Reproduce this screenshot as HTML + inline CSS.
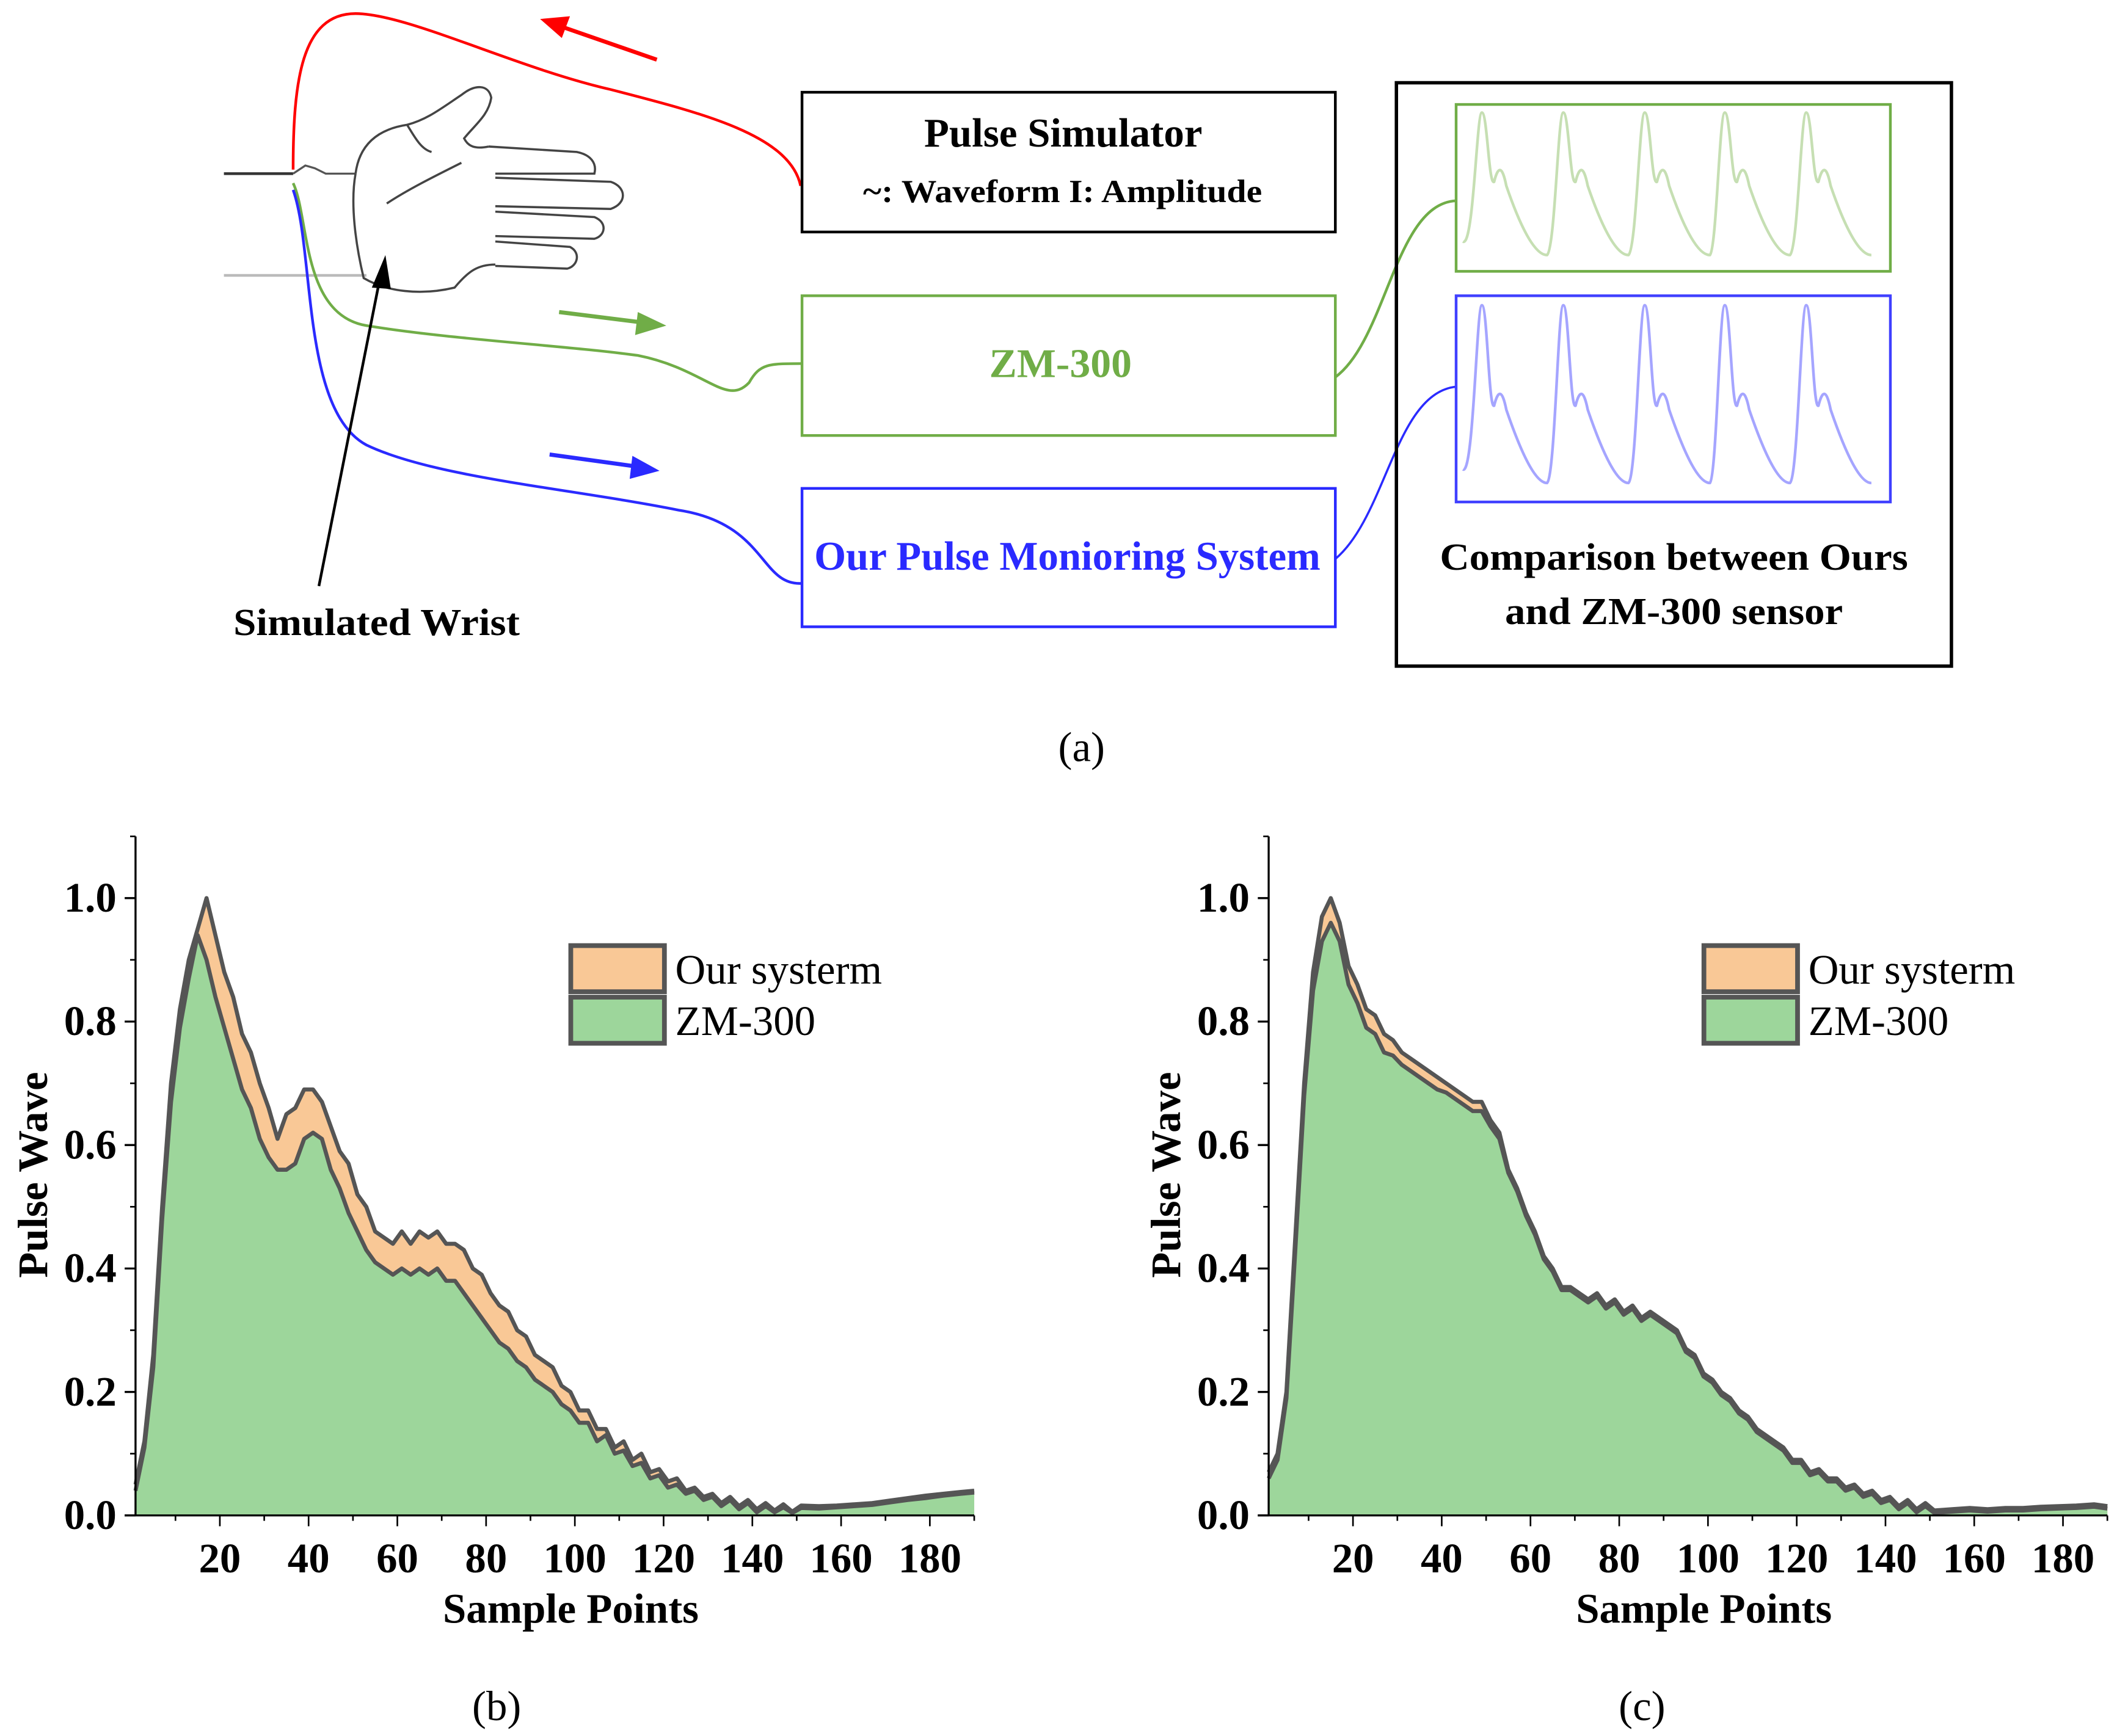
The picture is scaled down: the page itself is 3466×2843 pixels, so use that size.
<!DOCTYPE html>
<html><head><meta charset="utf-8"><style>
html,body{margin:0;padding:0;background:#fff;}
svg{display:block;}
text{font-family:"Liberation Serif",serif;}
</style></head><body>
<svg id="root" width="3466" height="2843" viewBox="0 0 1560 1279.6" xmlns="http://www.w3.org/2000/svg">
<g id="diagram">
  <line x1="165" y1="128" x2="216" y2="128" stroke="#333" stroke-width="2"/>
  <path d="M216,128 L225,122 L232,124 L240,128 L262,128" fill="none" stroke="#555" stroke-width="1.5"/>
  <line x1="165" y1="203" x2="270" y2="203" stroke="#bbb" stroke-width="2"/>
  <g fill="none" stroke="#444" stroke-width="1.6">
    <path d="M262,128 C258,150 262,180 268,205 C285,215 310,218 335,212 C345,200 352,195 365,195"/>
    <path d="M262,128 C265,105 280,95 300,92 C315,88 325,80 340,70 C350,62 360,62 362,72 C360,85 350,92 342,102 C345,108 350,110 360,108"/>
    <path d="M360,108 L425,112 C435,114 440,120 438,128 L365,128"/>
    <path d="M365,131 L450,134 C462,138 462,150 450,154 L365,152"/>
    <path d="M365,156 L438,160 C448,164 446,174 438,176 L365,174"/>
    <path d="M365,178 L420,182 C428,186 426,196 418,198 L365,196"/>
    <path d="M300,92 C305,100 310,110 318,112 M285,150 C300,140 320,130 340,120"/>
  </g>
  <path d="M216,125 C216,60 222,10 262,10 C300,10 380,50 450,66 C520,84 582,100 590,137" fill="none" stroke="#f00" stroke-width="2"/>
  <g><line x1="484" y1="44" x2="412" y2="19" stroke="#f00" stroke-width="3"/><polygon points="398,14 420,12 414,28" fill="#f00"/></g>
  <path d="M216,135 C228,160 222,232 270,240 C330,250 420,255 470,262 C520,272 535,300 552,282 C560,268 566,268 591,268" fill="none" stroke="#70ad47" stroke-width="2"/>
  <g><line x1="412" y1="230" x2="476" y2="238" stroke="#70ad47" stroke-width="3"/><polygon points="491,240 470,230 468,247" fill="#70ad47"/></g>
  <path d="M216,140 C232,185 222,302 270,328 C320,352 420,360 500,376 C565,386 560,432 591,430" fill="none" stroke="#2a2aff" stroke-width="2"/>
  <g><line x1="405" y1="335" x2="470" y2="344" stroke="#2a2aff" stroke-width="3"/><polygon points="486,347 466,336 464,353" fill="#2a2aff"/></g>
  <g><line x1="235" y1="432" x2="280" y2="205" stroke="#000" stroke-width="2"/><polygon points="284,188 274,212 288,213" fill="#000"/></g>
  <text x="172" y="468" font-size="28" font-weight="bold" textLength="211" lengthAdjust="spacingAndGlyphs">Simulated Wrist</text>

  <g>
    <rect x="591" y="68" width="393" height="103" fill="#fff" stroke="#000" stroke-width="2"/>
    <text x="681" y="108" font-size="30" font-weight="bold" textLength="205" lengthAdjust="spacingAndGlyphs">Pulse Simulator</text>
    <text x="636" y="149" font-size="24" font-weight="bold" textLength="294" lengthAdjust="spacingAndGlyphs">~: Waveform  I: Amplitude</text>
  </g>
  <g>
    <rect x="591" y="218" width="393" height="103" fill="#fff" stroke="#70ad47" stroke-width="2"/>
    <text x="729" y="278" font-size="30" font-weight="bold" fill="#70ad47" textLength="105" lengthAdjust="spacingAndGlyphs">ZM-300</text>
  </g>
  <g>
    <rect x="591" y="360" width="393" height="102" fill="#fff" stroke="#2a2aff" stroke-width="2"/>
    <text x="600" y="420" font-size="30" font-weight="bold" fill="#2a2aff" textLength="373" lengthAdjust="spacingAndGlyphs">Our Pulse Monioring System</text>
  </g>
  <path d="M984,278 C1022,250 1028,150 1073,148" fill="none" stroke="#70ad47" stroke-width="2"/>
  <path d="M984,412 C1022,380 1028,290 1073,285" fill="none" stroke="#2a2aff" stroke-width="1.6"/>
  <g>
    <rect x="1029" y="61" width="409" height="430" fill="none" stroke="#000" stroke-width="2.5"/>
    <rect x="1073" y="77" width="320" height="123" fill="#fff" stroke="#70ad47" stroke-width="2"/>
    <rect x="1073" y="218" width="320" height="152" fill="#fff" stroke="#4040ff" stroke-width="2"/>
    <path id="gwave" fill="none" stroke="#c6dfb3" stroke-width="2"/>
    <path id="bwave" fill="none" stroke="#a5a5ff" stroke-width="2"/>
    <text x="1061" y="420" font-size="28" font-weight="bold" textLength="345" lengthAdjust="spacingAndGlyphs">Comparison between Ours</text>
    <text x="1109" y="460" font-size="28" font-weight="bold" textLength="249" lengthAdjust="spacingAndGlyphs">and ZM-300 sensor</text>
  </g>
  <text x="797" y="561" font-size="31" text-anchor="middle">(a)</text>
</g>
<g id="chartB"></g>
<g id="chartC"></g>
<text x="366" y="1268" font-size="31" text-anchor="middle">(b)</text>
<text x="1210" y="1268" font-size="31" text-anchor="middle">(c)</text>
</svg>
<script>
const samplePoints = [1,3,5,7,9,11,13,15,17,19,21,23,25,27,29,31,33,35,37,39,41,43,45,47,49,51,53,55,57,59,61,63,65,67,69,71,73,75,77,79,81,83,85,87,89,91,93,95,97,99,101,103,105,107,109,111,113,115,117,119,121,123,125,127,129,131,133,135,137,139,141,143,145,147,149,151,155,159,163,167,171,175,179,183,187,190];
const ourB = [0.05,0.12,0.26,0.5,0.7,0.82,0.9,0.95,1.0,0.94,0.88,0.84,0.78,0.75,0.7,0.66,0.61,0.65,0.66,0.69,0.69,0.67,0.63,0.59,0.57,0.52,0.5,0.46,0.45,0.44,0.46,0.44,0.46,0.45,0.46,0.44,0.44,0.43,0.4,0.39,0.36,0.34,0.33,0.3,0.29,0.26,0.25,0.24,0.21,0.2,0.17,0.17,0.14,0.14,0.11,0.12,0.09,0.1,0.07,0.075,0.055,0.06,0.04,0.045,0.03,0.035,0.02,0.03,0.015,0.025,0.01,0.02,0.008,0.018,0.006,0.016,0.015,0.016,0.018,0.02,0.024,0.028,0.032,0.035,0.038,0.04];
const zmB = [0.04,0.11,0.24,0.48,0.67,0.79,0.87,0.94,0.9,0.84,0.79,0.74,0.69,0.66,0.61,0.58,0.56,0.56,0.57,0.61,0.62,0.61,0.56,0.53,0.49,0.46,0.43,0.41,0.4,0.39,0.4,0.39,0.4,0.39,0.4,0.38,0.38,0.36,0.34,0.32,0.3,0.28,0.27,0.25,0.24,0.22,0.21,0.2,0.18,0.17,0.15,0.15,0.12,0.13,0.1,0.105,0.08,0.085,0.06,0.065,0.045,0.05,0.035,0.04,0.025,0.03,0.015,0.025,0.01,0.02,0.005,0.015,0.005,0.013,0.004,0.012,0.011,0.013,0.015,0.017,0.021,0.025,0.028,0.032,0.035,0.037];
const ourC = [0.07,0.1,0.2,0.45,0.7,0.88,0.97,1.0,0.96,0.89,0.86,0.82,0.81,0.78,0.77,0.75,0.74,0.73,0.72,0.71,0.7,0.69,0.68,0.67,0.67,0.64,0.62,0.56,0.53,0.49,0.46,0.42,0.4,0.37,0.37,0.36,0.35,0.36,0.34,0.35,0.33,0.34,0.32,0.33,0.32,0.31,0.3,0.27,0.26,0.23,0.22,0.2,0.19,0.17,0.16,0.14,0.13,0.12,0.11,0.09,0.09,0.07,0.075,0.06,0.06,0.045,0.05,0.035,0.04,0.025,0.03,0.015,0.025,0.01,0.02,0.008,0.01,0.012,0.01,0.012,0.012,0.014,0.015,0.016,0.018,0.015];
const zmC = [0.06,0.09,0.19,0.43,0.68,0.85,0.93,0.96,0.93,0.86,0.83,0.79,0.78,0.75,0.745,0.73,0.72,0.71,0.70,0.69,0.685,0.675,0.665,0.655,0.655,0.63,0.61,0.555,0.525,0.485,0.455,0.415,0.395,0.365,0.365,0.355,0.345,0.355,0.335,0.345,0.325,0.335,0.315,0.325,0.315,0.305,0.295,0.265,0.255,0.225,0.215,0.195,0.185,0.165,0.155,0.135,0.125,0.115,0.105,0.085,0.085,0.065,0.07,0.055,0.055,0.04,0.045,0.03,0.035,0.02,0.025,0.01,0.02,0.005,0.015,0.004,0.006,0.008,0.006,0.008,0.008,0.01,0.011,0.012,0.014,0.011];
const yTicks = [0.0,0.2,0.4,0.6,0.8,1.0];
const yTickLabels = ["0.0","0.2","0.4","0.6","0.8","1.0"];
const xTicks = [20,40,60,80,100,120,140,160,180];
const legendLabels = ["Our systerm","ZM-300"];

const NS = "http://www.w3.org/2000/svg";
function mk(tag, attrs, parent){const e=document.createElementNS(NS,tag);for(const k in attrs)e.setAttribute(k,attrs[k]);parent.appendChild(e);return e;}

function drawChart(g, ox, our, zm){
  const xS = v => ox + v*3.27;
  const yS = v => 1117 - v*455;
  const xMin = 1, xMax = 190;
  const areaPath = arr => {
    const n = Math.min(samplePoints.length, arr.length);
    let d = "M"+xS(samplePoints[0])+","+yS(0);
    for(let i=0;i<n;i++) d += " L"+xS(samplePoints[i]).toFixed(2)+","+yS(arr[i]).toFixed(2);
    d += " L"+xS(samplePoints[n-1])+","+yS(0)+" Z";
    return d;
  };
  const linePath = arr => {
    const n = Math.min(samplePoints.length, arr.length);
    let d = "";
    for(let i=0;i<n;i++) d += (i?" L":"M")+xS(samplePoints[i]).toFixed(2)+","+yS(arr[i]).toFixed(2);
    return d;
  };
  const a1 = mk("path",{d:areaPath(our),fill:"#f9c896",stroke:"none"},g);
  
  
  const a2 = mk("path",{d:areaPath(zm),fill:"#9dd69b",stroke:"none"},g);
  
  
  const l1 = mk("path",{d:linePath(our),fill:"none",stroke:"#555","stroke-width":3,"stroke-linejoin":"round"},g);
  
  
  const l2 = mk("path",{d:linePath(zm),fill:"none",stroke:"#555","stroke-width":3,"stroke-linejoin":"round"},g);
  
  
  const ax = mk("g",{},g);
  
  
  mk("line",{x1:xS(xMin),y1:yS(1.1),x2:xS(xMin),y2:yS(0),stroke:"#000","stroke-width":1.5},ax);
  mk("line",{x1:xS(xMin)-8,y1:yS(0),x2:xS(xMax),y2:yS(0),stroke:"#000","stroke-width":1.5},ax);
  for(let v=0.1; v<1.1; v+=0.2){ mk("line",{x1:xS(xMin)-4,y1:yS(v),x2:xS(xMin),y2:yS(v),stroke:"#000","stroke-width":1.2},ax); }
  yTicks.forEach((v,i)=>{
    mk("line",{x1:xS(xMin)-8,y1:yS(v),x2:xS(xMin),y2:yS(v),stroke:"#000","stroke-width":1.5},ax);
    const t = mk("text",{x:xS(xMin)-14,y:yS(v)+10,"font-size":31,"font-weight":"bold","text-anchor":"end"},ax);
    t.textContent = yTickLabels[i];
    
    
  });
  for(let v=10; v<=190; v+=10){ mk("line",{x1:xS(v),y1:yS(0),x2:xS(v),y2:yS(0)+(v%20===0?8:4),stroke:"#000","stroke-width":1.2},ax); }
  xTicks.forEach(v=>{
    const t = mk("text",{x:xS(v),y:1159,"font-size":31,"font-weight":"bold","text-anchor":"middle"},ax);
    t.textContent = String(v);
    
    
  });
  const xt = mk("text",{x:ox+324,y:1196,"font-size":31,"font-weight":"bold","text-anchor":"middle"},g);
  xt.textContent = "Sample Points";
  
  
  const yt = mk("text",{x:0,y:0,"font-size":31,"font-weight":"bold","text-anchor":"middle",transform:"translate("+(ox-62)+",866) rotate(-90)"},g);
  yt.textContent = "Pulse Wave";
  
  
  const lg = mk("g",{},g);
  
  
  const fills = ["#f9c896","#9dd69b"];
  legendLabels.forEach((lab,i)=>{
    const y0 = 697 + i*38;
    const r = mk("rect",{x:ox+324,y:y0,width:69,height:34,fill:fills[i],stroke:"#555","stroke-width":3.5},lg);
    
    
    const t = mk("text",{x:ox+401,y:y0+28,"font-size":31},lg);
    t.textContent = lab;
    
    
  });
}
drawChart(document.getElementById("chartB"), 96.6, ourB, zmB);
drawChart(document.getElementById("chartC"), 931.6, ourC, zmC);

function mini(id, x0, top, bot, notch){
  const peaks=[1092,1152,1212,1271,1331];
  let d="M"+(x0)+","+(bot-10);
  peaks.forEach(p=>{
    d+=" C"+(p-6)+","+(bot-5)+" "+(p-4)+","+top+" "+p+","+top;
    d+=" C"+(p+4)+","+top+" "+(p+5)+","+(notch+15)+" "+(p+9)+","+(notch+12);
    d+=" C"+(p+12)+","+(notch)+" "+(p+15)+","+notch+" "+(p+18)+","+(notch+15);
    d+=" C"+(p+30)+","+(notch+50)+" "+(p+40)+","+bot+" "+(p+48)+","+bot;
  });
  document.getElementById(id).setAttribute("d",d);
}
mini("gwave",1078,83,188,122);
mini("bwave",1078,225,356,287);
</script>
</body></html>
